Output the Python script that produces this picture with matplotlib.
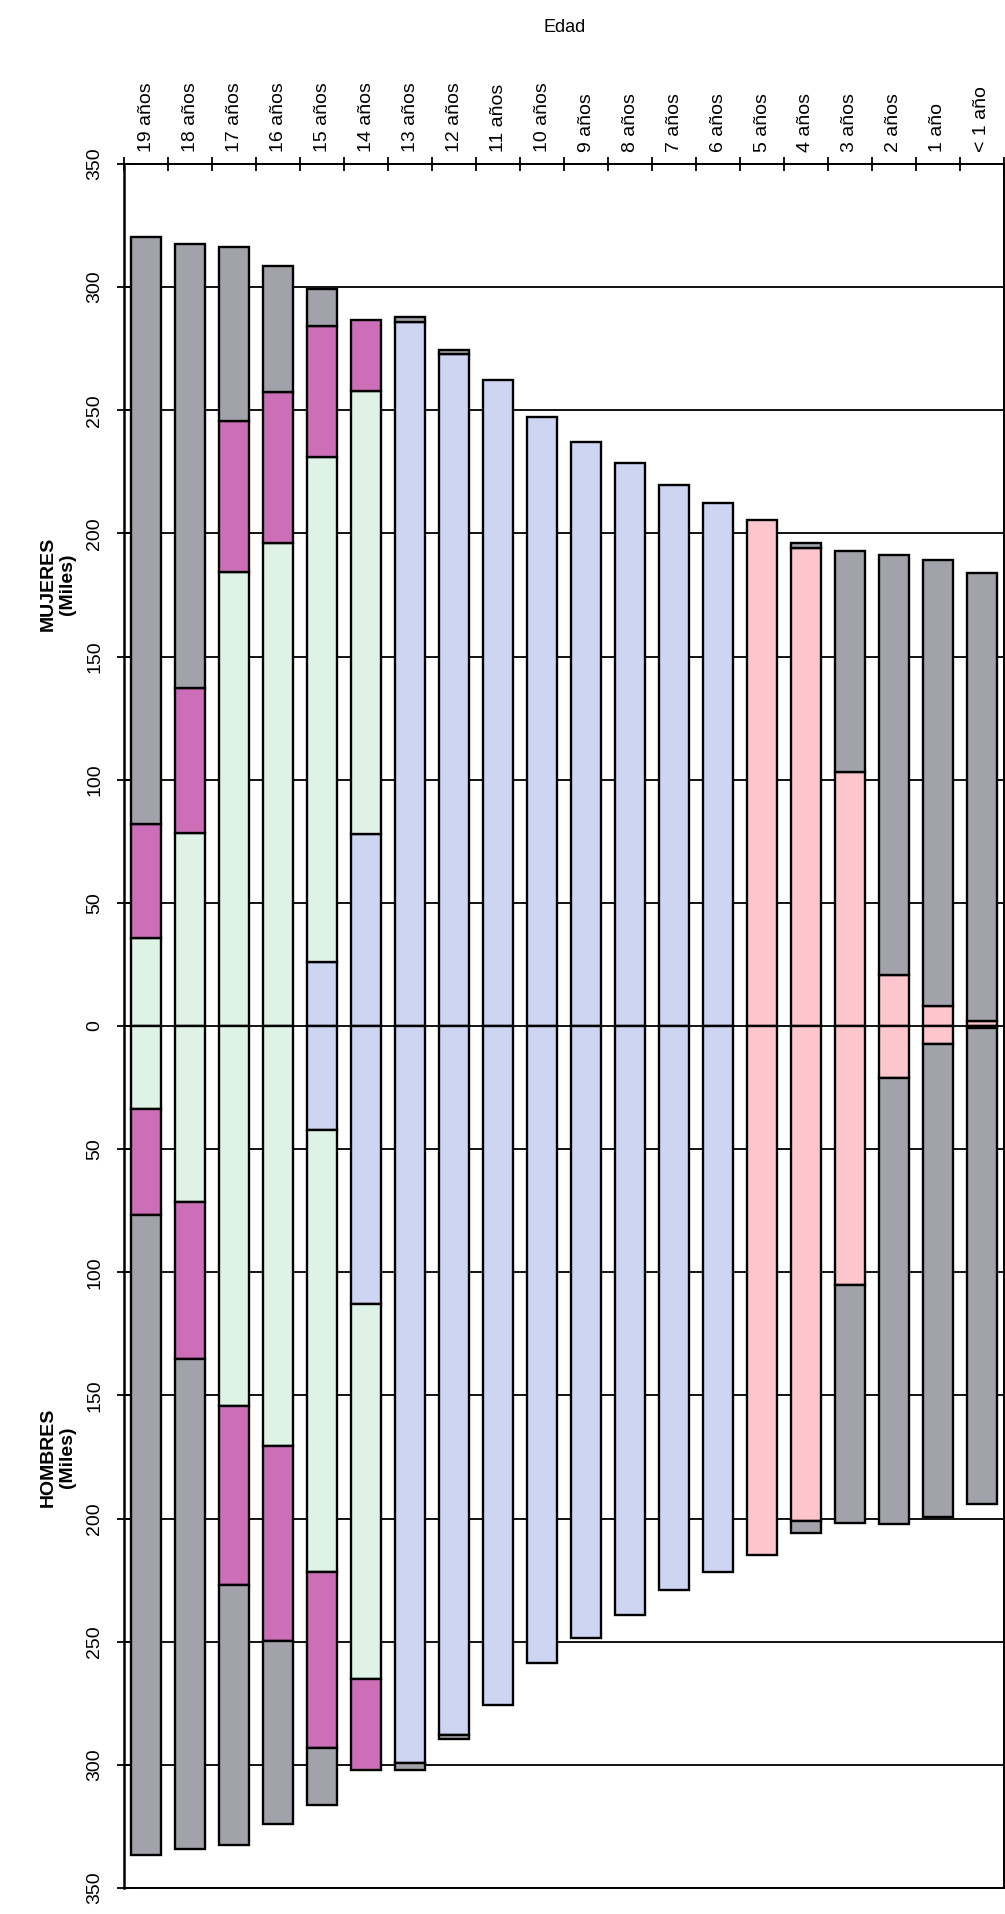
import numpy as np
import matplotlib.pyplot as plt

plt.rcParams['font.family'] = ['Liberation Sans', 'DejaVu Sans']

# Grupos de edad, de mayor a menor (orden del grafico)
edades = ["19 años", "18 años", "17 años", "16 años", "15 años", "14 años",
          "13 años", "12 años", "11 años", "10 años", "9 años", "8 años",
          "7 años", "6 años", "5 años", "4 años", "3 años", "2 años",
          "1 año", "< 1 año"]

# Mujeres (miles), cada tramo de la barra, desde el eje hacia afuera
muj_rosa = [0, 0, 0, 0, 0, 0, 0, 0, 0, 0, 0, 0, 0, 0, 205.4, 194.2, 103.0, 20.7, 8.0, 2.0]
muj_azul = [0, 0, 0, 0, 26.1, 77.8, 286.0, 272.7, 262.2, 247.2, 237.3, 228.6, 219.6, 212.5,
            0, 0, 0, 0, 0, 0]
muj_verde = [35.9, 78.2, 184.2, 196.2, 204.8, 180.2, 0, 0, 0, 0, 0, 0, 0, 0, 0, 0, 0, 0, 0, 0]
muj_magenta = [46.0, 59.1, 61.6, 61.2, 53.5, 28.7, 0, 0, 0, 0, 0, 0, 0, 0, 0, 0, 0, 0, 0, 0]
muj_gris = [238.4, 180.4, 70.6, 51.0, 14.7, 0, 2.0, 1.7, 0, 0, 0, 0, 0, 0,
            0, 2.0, 89.8, 170.4, 181.1, 182.0]

# Hombres (miles)
hom_rosa = [0, 0, 0, 0, 0, 0, 0, 0, 0, 0, 0, 0, 0, 0, 214.6, 201.1, 105.2, 21.2, 7.2, 0.8]
hom_azul = [0, 0, 0, 0, 42.1, 112.7, 299.3, 287.9, 275.7, 258.8, 248.7, 239.3, 229.1, 221.5,
            0, 0, 0, 0, 0, 0]
hom_verde = [33.7, 71.3, 154.3, 170.7, 179.6, 152.5, 0, 0, 0, 0, 0, 0, 0, 0, 0, 0, 0, 0, 0, 0]
hom_magenta = [42.9, 63.8, 72.5, 79.1, 71.6, 37.1, 0, 0, 0, 0, 0, 0, 0, 0, 0, 0, 0, 0, 0, 0]
hom_gris = [260.1, 199.0, 105.9, 74.1, 22.9, 0, 2.7, 1.7, 0, 0, 0, 0, 0, 0,
            0, 4.8, 96.7, 181.0, 192.3, 193.3]

colores = ['#fcc6cc', '#cdd5f2', '#dff2e6', '#cc6fb8', '#a2a2aa']

fig = plt.figure(figsize=(10.05, 19.14), dpi=100)
ax = fig.add_axes([0.1234, 0.0136, 0.8756, 0.9007])

x = np.arange(len(edades))
ancho = 0.70

# barras apiladas: mujeres hacia arriba, hombres hacia abajo
for series, signo in [([muj_rosa, muj_azul, muj_verde, muj_magenta, muj_gris], 1),
                      ([hom_rosa, hom_azul, hom_verde, hom_magenta, hom_gris], -1)]:
    base = np.zeros(len(edades))
    for vals, col in zip(series, colores):
        vals = np.array(vals, dtype=float)
        m = vals > 0
        ax.bar(x[m], signo * vals[m], ancho, bottom=signo * base[m], color=col,
               edgecolor='black', linewidth=1.7, zorder=3)
        base = base + vals

ax.set_xlim(-0.5, len(edades) - 0.5)
ax.set_ylim(-350, 350)

# eje de edades arriba: marcas entre categorias, etiquetas centradas
ax.xaxis.tick_top()
ax.set_xticks(np.arange(-0.5, len(edades), 1.0))
ax.set_xticklabels([])
ax.set_xticks(x, minor=True)
ax.set_xticklabels(edades, minor=True, rotation=90, ha='center', va='bottom', fontsize=14)
ax.tick_params(axis='x', which='major', direction='inout', length=10, width=1.3, top=True, bottom=False)
ax.tick_params(axis='x', which='minor', length=0, pad=8.5, top=True, bottom=False)

yt = np.arange(-350, 351, 50)
ax.set_yticks(yt)
ax.set_yticklabels([str(abs(v)) for v in yt], rotation=90, va='center', fontsize=14)
ax.tick_params(axis='y', direction='inout', length=10, width=1.3, pad=10)

ax.yaxis.grid(True, color='black', linewidth=1.3)
ax.set_axisbelow(True)
for s in ax.spines.values():
    s.set_linewidth(1.4)
ax.spines['left'].set_linewidth(1.8)

fig.text(0.562, 1 - 27 / 1914, 'Edad', ha='center', va='center', fontsize=13)
fig.text(58 / 1005, 1 - 584 / 1914, 'MUJERES\n(Miles)', rotation=90, ha='center', va='center',
         multialignment='center', fontsize=14, fontweight='bold')
fig.text(58 / 1005, 1 - 1457 / 1914, 'HOMBRES\n(Miles)', rotation=90, ha='center', va='center',
         multialignment='center', fontsize=14, fontweight='bold')

fig.savefig('out.png', dpi=100)
